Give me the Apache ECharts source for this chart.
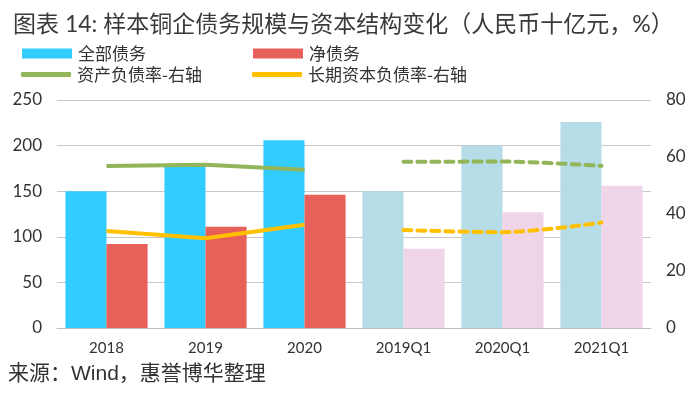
<!DOCTYPE html>
<html>
<head>
<meta charset="utf-8">
<script src="https://cdn.jsdelivr.net/npm/echarts@6/dist/echarts.min.js"></script>
<style>html,body{margin:0;padding:0;background:#fff}#c{width:700px;height:393px}</style>
</head>
<body>
<div id="c"></div>
<script>
var categories = ['2018', '2019', '2020', '2019Q1', '2020Q1', '2021Q1'];
var totalDebt = [150, 178, 206, 150, 200, 226];
var netDebt = [92, 111, 146, 87, 127, 156];
var assetLiabRatio = [56.8, 57.3, 55.5, null, null, null];
var assetLiabRatioQ = [null, null, null, 58.3, 58.4, 56.9];
var longCapRatio = [34.0, 31.5, 36.2, null, null, null];
var longCapRatioQ = [null, null, null, 34.4, 33.6, 37.0];
var leftTicks = [0, 50, 100, 150, 200, 250];
var rightTicks = [0, 20, 40, 60, 80];

var FONT = 'Lato, "Noto Sans CJK SC", sans-serif';
var CJK = '"Noto Sans CJK SC", Lato, sans-serif';
var txt = '#333333';

function colored(arr, c1, c2) {
  return arr.map(function (v, i) {
    return { value: v, itemStyle: { color: i >= 3 ? c2 : c1 } };
  });
}

var chart = echarts.init(document.getElementById('c'), null, { renderer: 'canvas' });
var legendBase = {
  itemWidth: 50, itemHeight: 10, itemGap: 0,
  textStyle: { fontSize: 17, color: txt, fontFamily: CJK, padding: [0, 0, 0, 1] },
  padding: 0, selectedMode: false
};
chart.setOption({
  animation: false,
  title: {
    text: '图表 14: 样本铜企债务规模与资本结构变化（人民币十亿元，%）',
    left: 8, top: 8,
    textStyle: { fontSize: 23, fontWeight: 'normal', color: '#3a3a3a', fontFamily: FONT }
  },
  legend: [
    Object.assign({}, legendBase, { left: 22, top: 45, data: [{ name: '全部债务', icon: 'rect' }] }),
    Object.assign({}, legendBase, { left: 253, top: 45, data: [{ name: '净债务', icon: 'rect' }] }),
    Object.assign({}, legendBase, { left: 21, top: 66, itemHeight: 5, data: [{ name: '资产负债率-右轴', icon: 'roundRect' }] }),
    Object.assign({}, legendBase, { left: 252, top: 66, itemHeight: 5, data: [{ name: '长期资本负债率-右轴', icon: 'roundRect' }] })
  ],
  grid: { left: 57, right: 49, top: 100, bottom: 65 },
  xAxis: {
    type: 'category', data: categories,
    axisLine: { lineStyle: { color: '#bfbfbf', width: 1 } },
    axisTick: { show: false },
    axisLabel: { fontSize: 15, color: txt, fontFamily: FONT, margin: 13 }
  },
  yAxis: [
    {
      type: 'value', min: leftTicks[0], max: leftTicks[leftTicks.length - 1], interval: 50,
      axisLine: { show: false }, axisTick: { show: false },
      splitLine: { lineStyle: { color: '#c8c8c8', width: 1 } },
      axisLabel: { fontSize: 17, color: txt, fontFamily: FONT, margin: 15 }
    },
    {
      type: 'value', min: rightTicks[0], max: rightTicks[rightTicks.length - 1], interval: 20,
      axisLine: { show: false }, axisTick: { show: false },
      splitLine: { show: false },
      axisLabel: { fontSize: 17, color: txt, fontFamily: FONT, margin: 15 }
    }
  ],
  series: [
    {
      name: '全部债务', type: 'bar', yAxisIndex: 0,
      data: colored(totalDebt, '#33ccff', '#b6dce8'),
      itemStyle: { color: '#33ccff' },
      barGap: '0%', barCategoryGap: '17%'
    },
    {
      name: '净债务', type: 'bar', yAxisIndex: 0,
      data: colored(netDebt, '#e8605a', '#efd5e7'),
      itemStyle: { color: '#e8605a' },
      barGap: '0%', barCategoryGap: '17%'
    },
    {
      name: '资产负债率-右轴', type: 'line', yAxisIndex: 1, data: assetLiabRatio,
      symbol: 'none', itemStyle: { color: '#92b55a' },
      lineStyle: { color: '#92b55a', width: 4 }, z: 5
    },
    {
      name: '长期资本负债率-右轴', type: 'line', yAxisIndex: 1, data: longCapRatio,
      symbol: 'none', itemStyle: { color: '#ffc000' },
      lineStyle: { color: '#ffc000', width: 4 }, z: 5
    },
    {
      name: '资产负债率Q', type: 'line', yAxisIndex: 1, data: assetLiabRatioQ,
      symbol: 'none', smooth: 0.3,
      lineStyle: { color: '#92b55a', width: 4, type: [8, 6], cap: 'round' }, z: 5
    },
    {
      name: '长期资本负债率Q', type: 'line', yAxisIndex: 1, data: longCapRatioQ,
      symbol: 'none', smooth: 0.3,
      lineStyle: { color: '#ffc000', width: 4, type: [8, 6], cap: 'round' }, z: 5
    }
  ],
  graphic: [
    {
      type: 'text', left: 8, top: 364,
      style: { text: '来源：Wind，惠誉博华整理', fontSize: 21, fill: '#333', fontFamily: '"Liberation Sans", "Noto Sans CJK SC", sans-serif' }
    }
  ]
});
</script>
</body>
</html>
